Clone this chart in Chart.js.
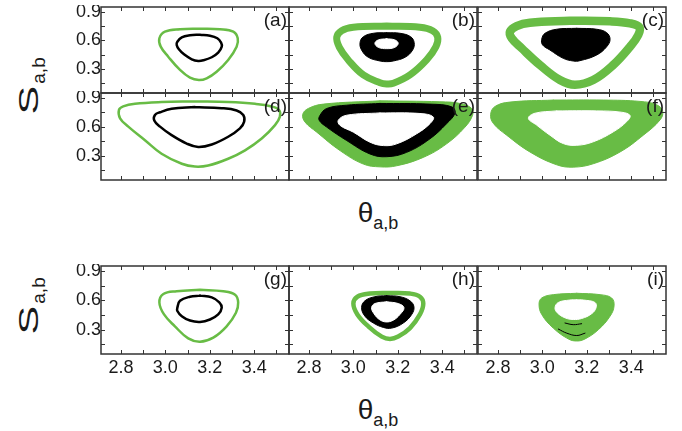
<!DOCTYPE html>
<html>
<head>
<meta charset="utf-8">
<script src="https://cdn.jsdelivr.net/npm/chart.js@4"></script>
<style>
  body { margin: 0; background: #fff; width: 682px; height: 431px; position: relative; overflow: hidden;
         font-family: "Liberation Sans", Arial, sans-serif; color: #1a1a1a; }
  canvas { position: absolute; }
  .ttl { position: absolute; width: 90px; height: 34px; line-height: 34px; text-align: center; font-size: 28px; white-space: nowrap; }
  .ttl sub { font-size: 18px; vertical-align: -7px; }
  .rot { transform: rotate(-90deg); }
  .rot .big { display: inline-block; font-size: 27px; transform: scaleX(1.6); margin: 0 7px 0 6px; }
  .rot sub { font-size: 19px; }
</style>
</head>
<body>
<div class="ttl rot" style="left:-16px; top:69px;"><span class="big">S</span><sub>a,b</sub></div>
<div class="ttl" style="left:333px; top:196px;">θ<sub>a,b</sub></div>
<div class="ttl rot" style="left:-16px; top:289px;"><span class="big">S</span><sub>a,b</sub></div>
<div class="ttl" style="left:333px; top:393px;">θ<sub>a,b</sub></div>
<script>
// axes
const X_MIN = 2.71, X_MAX = 3.557;
const Y_MIN = 0.05, Y_MAX = 0.95;
const xTickVals = [2.8, 2.9, 3.0, 3.1, 3.2, 3.3, 3.4, 3.5];
const xLabelVals = [2.8, 3.0, 3.2, 3.4];
const yTickVals = [0.15, 0.3, 0.45, 0.6, 0.75, 0.9];
const yLabelVals = [0.3, 0.6, 0.9];
const panelNames = ['(a)', '(b)', '(c)', '(d)', '(e)', '(f)', '(g)', '(h)', '(i)'];

// loops, [theta, S]
const aGreen = [[3.156,0.723],[3.246,0.717],[3.306,0.692],[3.326,0.623],[3.321,0.535],[3.283,0.396],[3.231,0.273],[3.186,0.204],[3.151,0.186],[3.111,0.21],[3.066,0.291],[3.013,0.43],[2.979,0.535],[2.973,0.623],[2.998,0.692],[3.066,0.717]];
const aBlack = [[3.156,0.66],[3.201,0.65],[3.234,0.623],[3.251,0.577],[3.254,0.535],[3.238,0.472],[3.209,0.424],[3.171,0.392],[3.148,0.385],[3.119,0.403],[3.084,0.455],[3.061,0.508],[3.051,0.553],[3.054,0.587],[3.074,0.633],[3.111,0.654]];

const bGreen = [[3.15,0.751],[3.30,0.738],[3.357,0.702],[3.38,0.633],[3.372,0.535],[3.33,0.396],[3.255,0.239],[3.18,0.152],[3.15,0.145],[3.12,0.158],[3.045,0.239],[2.977,0.396],[2.937,0.528],[2.925,0.633],[2.947,0.702],[3.0,0.738]];
const bBlack = [[3.15,0.681],[3.21,0.675],[3.258,0.639],[3.274,0.577],[3.267,0.5],[3.233,0.424],[3.18,0.385],[3.15,0.378],[3.12,0.385],[3.067,0.424],[3.037,0.5],[3.03,0.577],[3.045,0.639],[3.09,0.675]];
const bHole = [[3.15,0.618],[3.187,0.605],[3.202,0.57],[3.187,0.528],[3.15,0.514],[3.112,0.528],[3.097,0.57],[3.112,0.605]];

const cGreen = [[3.124,0.807],[3.305,0.80],[3.395,0.779],[3.437,0.738],[3.432,0.657],[3.395,0.535],[3.319,0.343],[3.229,0.186],[3.147,0.137],[3.079,0.186],[2.989,0.343],[2.907,0.518],[2.862,0.623],[2.854,0.692],[2.884,0.751],[2.944,0.786]];
const cBlack = [[3.155,0.727],[3.245,0.717],[3.29,0.681],[3.305,0.612],[3.29,0.535],[3.245,0.448],[3.169,0.388],[3.139,0.385],[3.094,0.413],[3.034,0.5],[3.001,0.553],[2.997,0.612],[3.012,0.675],[3.064,0.717]];

const dGreen = [[3.133,0.863],[3.283,0.856],[3.404,0.838],[3.479,0.811],[3.512,0.775],[3.516,0.706],[3.494,0.618],[3.434,0.479],[3.359,0.357],[3.283,0.27],[3.193,0.2],[3.133,0.189],[3.074,0.218],[2.983,0.322],[2.908,0.462],[2.833,0.602],[2.796,0.688],[2.791,0.775],[2.81,0.811],[2.863,0.838],[2.983,0.856]];
const dBlack = [[3.133,0.804],[3.254,0.793],[3.321,0.769],[3.351,0.723],[3.355,0.654],[3.336,0.584],[3.283,0.497],[3.209,0.417],[3.148,0.392],[3.096,0.427],[3.028,0.514],[2.976,0.602],[2.95,0.665],[2.953,0.723],[2.976,0.751],[3.028,0.786]];

const eGreen = [[3.12,0.869],[3.39,0.859],[3.48,0.842],[3.533,0.79],[3.537,0.72],[3.503,0.597],[3.42,0.424],[3.315,0.284],[3.195,0.197],[3.12,0.186],[3.045,0.215],[2.94,0.354],[2.835,0.545],[2.782,0.65],[2.772,0.73],[2.797,0.79],[2.865,0.835]];
const eBlack = [[3.12,0.842],[3.345,0.835],[3.443,0.807],[3.458,0.744],[3.42,0.633],[3.345,0.476],[3.24,0.336],[3.15,0.291],[3.075,0.319],[2.97,0.458],[2.88,0.597],[2.846,0.668],[2.85,0.72],[2.88,0.79],[2.97,0.824]];
const eHole = [[3.12,0.744],[3.30,0.738],[3.36,0.702],[3.345,0.633],[3.285,0.528],[3.195,0.424],[3.135,0.406],[3.075,0.441],[3.0,0.545],[2.94,0.615],[2.932,0.668],[2.97,0.72]];

const fGreen = [[3.049,0.877],[3.274,0.877],[3.44,0.863],[3.515,0.828],[3.542,0.759],[3.53,0.671],[3.455,0.514],[3.35,0.34],[3.229,0.218],[3.139,0.183],[3.065,0.207],[2.944,0.34],[2.839,0.514],[2.779,0.636],[2.767,0.73],[2.787,0.811],[2.854,0.856]];
const fHole = [[3.065,0.765],[3.245,0.765],[3.357,0.751],[3.395,0.717],[3.38,0.654],[3.32,0.549],[3.229,0.445],[3.155,0.409],[3.094,0.427],[3.034,0.514],[2.974,0.618],[2.937,0.688],[2.967,0.741]];

const gGreen = [[3.156,0.706],[3.261,0.692],[3.314,0.657],[3.328,0.577],[3.318,0.472],[3.276,0.333],[3.216,0.218],[3.156,0.176],[3.103,0.21],[3.043,0.333],[2.994,0.455],[2.973,0.577],[2.991,0.664],[3.051,0.692]];
const gBlack = [[3.156,0.647],[3.209,0.629],[3.243,0.577],[3.254,0.524],[3.238,0.455],[3.201,0.403],[3.156,0.378],[3.111,0.392],[3.074,0.437],[3.054,0.49],[3.054,0.524],[3.066,0.594],[3.111,0.636]];

const hGreen = [[3.165,0.675],[3.255,0.668],[3.30,0.636],[3.315,0.566],[3.30,0.455],[3.255,0.315],[3.202,0.228],[3.165,0.204],[3.128,0.228],[3.067,0.333],[3.018,0.455],[3.0,0.566],[3.018,0.636],[3.075,0.668]];
const hBlack = [[3.15,0.647],[3.21,0.636],[3.255,0.594],[3.273,0.532],[3.263,0.455],[3.225,0.367],[3.173,0.315],[3.135,0.322],[3.09,0.367],[3.052,0.437],[3.037,0.524],[3.052,0.594],[3.097,0.636]];
const hHole = [[3.15,0.584],[3.202,0.566],[3.228,0.524],[3.21,0.455],[3.18,0.396],[3.147,0.378],[3.117,0.403],[3.093,0.462],[3.082,0.524],[3.097,0.566]];

const iGreen = [[3.155,0.671],[3.26,0.657],[3.312,0.623],[3.323,0.542],[3.305,0.437],[3.252,0.298],[3.192,0.204],[3.155,0.183],[3.117,0.204],[3.049,0.315],[2.997,0.455],[2.985,0.56],[2.997,0.623],[3.049,0.657]];
const iHole = [[3.154,0.604],[3.184,0.602],[3.237,0.577],[3.242,0.524],[3.222,0.462],[3.177,0.413],[3.139,0.403],[3.102,0.42],[3.067,0.472],[3.057,0.524],[3.072,0.577],[3.124,0.602]];
const iStreak1 = [[3.072,0.305],[3.11,0.263],[3.155,0.239],[3.192,0.263]];
const iStreak2 = [[3.102,0.367],[3.139,0.35],[3.177,0.36]];

const GREEN = '#68bc45';
const FRAME = '#333';
const FONT = '"Liberation Sans", Arial, sans-serif';

function pts(loop, close) {
    const p = loop.map(([x, y]) => ({ x, y }));
    if (close) p.push({ x: loop[0][0], y: loop[0][1] });
    return p;
}
function ring(loop, color, width, order) {
    return { data: pts(loop, true), borderColor: color, borderWidth: width, fill: false, order };
}
function blob(loop, color, order) {
    return { data: pts(loop, true), borderColor: color, backgroundColor: color, borderWidth: 1, fill: 'shape', order };
}
function trace(loop, color, width, order) {
    return { data: pts(loop, false), borderColor: color, borderWidth: width, fill: false, order };
}

const panelSets = [
    [ring(aGreen, GREEN, 2.5, 2), ring(aBlack, '#000', 2.5, 1)],
    [ring(bGreen, GREEN, 7, 3), blob(bBlack, '#000', 2), blob(bHole, '#fff', 1)],
    [ring(cGreen, GREEN, 8.5, 2), blob(cBlack, '#000', 1)],
    [ring(dGreen, GREEN, 2.5, 2), ring(dBlack, '#000', 2.5, 1)],
    [blob(eGreen, GREEN, 3), blob(eBlack, '#000', 2), blob(eHole, '#fff', 1)],
    [blob(fGreen, GREEN, 2), blob(fHole, '#fff', 1)],
    [ring(gGreen, GREEN, 2.5, 2), ring(gBlack, '#000', 2.5, 1)],
    [ring(hGreen, GREEN, 4.5, 3), blob(hBlack, '#000', 2), blob(hHole, '#fff', 1)],
    [blob(iGreen, GREEN, 3), blob(iHole, '#fff', 2), trace(iStreak1, '#000', 1, 1), trace(iStreak2, '#000', 1, 1)]
];

const colLeft = [101, 289, 478];
const rowTop = [7, 93, 266];
const rowH = [86, 87, 88];
const PANEL_W = 188;

const frameTicks = {
    id: 'frameTicks',
    afterDraw(chart, args, opts) {
        const { ctx, chartArea: a } = chart;
        const sx = chart.scales.x, sy = chart.scales.y;
        ctx.save();
        ctx.strokeStyle = FRAME;
        ctx.lineWidth = 1;
        ctx.beginPath();
        xTickVals.forEach(v => {
            const px = Math.round(sx.getPixelForValue(v)) + 0.5;
            ctx.moveTo(px, a.top); ctx.lineTo(px, a.top + 4);
            ctx.moveTo(px, a.bottom); ctx.lineTo(px, a.bottom - 4);
        });
        yTickVals.forEach(v => {
            const py = Math.round(sy.getPixelForValue(v)) + 0.5;
            ctx.moveTo(a.left, py); ctx.lineTo(a.left + 4, py);
            ctx.moveTo(a.right, py); ctx.lineTo(a.right - 4, py);
        });
        ctx.stroke();
        ctx.lineWidth = 1.5;
        ctx.strokeRect(a.left, a.top, a.right - a.left, a.bottom - a.top);
        ctx.fillStyle = '#1a1a1a';
        ctx.font = '19px ' + FONT;
        ctx.textAlign = 'right';
        ctx.textBaseline = 'top';
        ctx.fillText(opts.label, a.right - 2, a.top + 4);
        ctx.restore();
    }
};

function noPad(s) {
    s.paddingTop = 0; s.paddingBottom = 0; s.paddingLeft = 0; s.paddingRight = 0;
}

panelSets.forEach((datasets, i) => {
    const col = i % 3, row = Math.floor(i / 3);
    const padL = col === 0 ? 48 : 2;
    const padB = row === 2 ? 30 : 2;
    const padT = 2, padR = 2;
    const w = padL + PANEL_W + padR, h = padT + rowH[row] + padB;
    const canvas = document.createElement('canvas');
    canvas.width = w;
    canvas.height = h;
    canvas.style.width = w + 'px';
    canvas.style.height = h + 'px';
    canvas.style.left = (colLeft[col] - padL) + 'px';
    canvas.style.top = (rowTop[row] - padT) + 'px';
    document.body.appendChild(canvas);

    new Chart(canvas.getContext('2d'), {
        type: 'line',
        data: { datasets: datasets.map(d => Object.assign({ pointRadius: 0, tension: 0.4, borderJoinStyle: 'round', borderCapStyle: 'round' }, d)) },
        options: {
            responsive: false,
            maintainAspectRatio: false,
            animation: false,
            devicePixelRatio: 1,
            layout: { autoPadding: false, padding: { top: padT, right: padR, left: 0, bottom: 0 } },
            plugins: { legend: { display: false }, tooltip: { enabled: false }, frameTicks: { label: panelNames[i] } },
            scales: {
                x: {
                    type: 'linear', min: X_MIN, max: X_MAX,
                    afterBuildTicks: ax => { ax.ticks = xTickVals.map(v => ({ value: v })); },
                    afterFit: s => { s.height = padB; noPad(s); },
                    grid: { display: false, drawTicks: false }, border: { display: false },
                    ticks: {
                        display: row === 2, autoSkip: false, maxRotation: 0, padding: 3, color: '#1a1a1a',
                        font: { family: FONT, size: 18 },
                        callback: v => xLabelVals.includes(v) ? v.toFixed(1) : ''
                    }
                },
                y: {
                    type: 'linear', min: Y_MIN, max: Y_MAX,
                    afterBuildTicks: ax => { ax.ticks = yTickVals.map(v => ({ value: v })); },
                    afterFit: s => { s.width = padL; noPad(s); },
                    grid: { display: false, drawTicks: false }, border: { display: false },
                    ticks: {
                        display: col === 0, autoSkip: false, padding: 0, color: '#1a1a1a',
                        font: { family: FONT, size: 18 },
                        callback: v => yLabelVals.includes(v) ? v.toFixed(1) : ''
                    }
                }
            }
        },
        plugins: [frameTicks]
    });
});
</script>
</body>
</html>
